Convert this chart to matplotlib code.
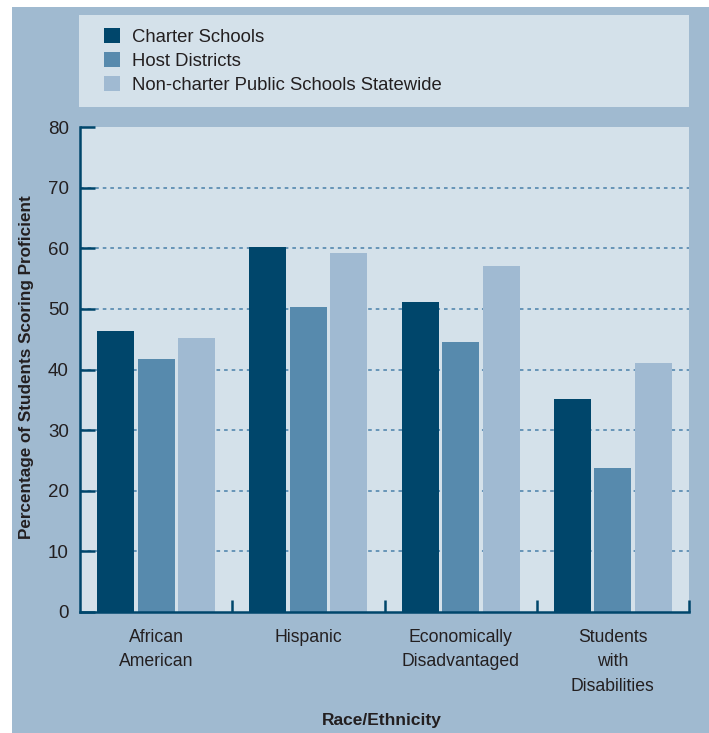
import numpy as np
import matplotlib.pyplot as plt
from matplotlib.patches import Rectangle

plt.rcParams['font.family'] = ['Liberation Sans', 'DejaVu Sans']

# Proficiency rates by group
categories = ["African\nAmerican", "Hispanic", "Economically\nDisadvantaged",
              "Students\nwith\nDisabilities"]
series_names = ["Charter Schools", "Host Districts",
                "Non-charter Public Schools Statewide"]
charter = [46.4, 60.2, 51.2, 35.1]
host = [41.7, 50.3, 44.6, 23.8]
statewide = [45.2, 59.2, 57.1, 41.1]
y_ticks = [0, 10, 20, 30, 40, 50, 60, 70, 80]

colors = ["#00466B", "#578AAD", "#A0BAD2"]
panel_bg = "#A0BAD0"
light_bg = "#D4E1EA"
dark_line = "#00466B"
text_col = "#231F20"

W, H = 709, 733
fig = plt.figure(figsize=(W / 100, H / 100), dpi=100)
fig.patch.set_facecolor("white")
fig.patches.append(Rectangle((12 / W, 0), 1 - 12 / W, 1 - 7 / H,
                             transform=fig.transFigure, facecolor=panel_bg,
                             edgecolor="none", zorder=-10))

ax = fig.add_axes([80 / W, (H - 612) / H, 609 / W, 485 / H])
ax.set_facecolor(light_bg)

x = np.arange(len(categories))
width = 0.243
step = 0.266
bars = []
for i, (vals, c) in enumerate(zip([charter, host, statewide], colors)):
    bars.append(ax.bar(x + (i - 1) * step, vals, width, color=c,
                       zorder=3, label=series_names[i]))

ax.set_xlim(-0.5, len(categories) - 0.5)
ax.set_ylim(0, 80)
ax.hlines(y_ticks[1:-1], -0.5, len(categories) - 0.5, colors="#5E8FB3",
          linestyles=(0, (2, 2.2)), linewidth=1.3, zorder=1)

for s in ["top", "right"]:
    ax.spines[s].set_visible(False)
for s in ["left", "bottom"]:
    ax.spines[s].set_color(dark_line)
    ax.spines[s].set_linewidth(1.8)
    ax.spines[s].set_zorder(5)

ax.set_yticks(y_ticks)
ax.tick_params(axis="y", direction="in", length=11, width=1.8, color=dark_line,
               labelsize=13.5, labelcolor=text_col, pad=8)
ax.set_xticks(x)
ax.set_xticklabels(categories, linespacing=1.6)
ax.tick_params(axis="x", which="major", length=0, labelsize=12.7,
               labelcolor=text_col, pad=12)
ax.set_xticks(np.arange(len(categories)) + 0.5, minor=True)
ax.tick_params(axis="x", which="minor", direction="in", length=9, width=1.8,
               color=dark_line)

fig.text(27 / W, 1 - 367 / H, "Percentage of Students Scoring Proficient",
         rotation=90, ha="center", va="center", fontsize=12.3,
         fontweight="bold", color=text_col)
fig.text(382 / W, 1 - 721 / H, "Race/Ethnicity", ha="center", va="center",
         fontsize=12.5, fontweight="bold", color=text_col)

# legend box
lax = fig.add_axes([79 / W, (H - 107) / H, 610 / W, 92 / H])
lax.set_facecolor(light_bg)
lax.set_xticks([])
lax.set_yticks([])
for s in lax.spines.values():
    s.set_visible(False)
lax.legend(handles=bars, labels=series_names, loc="upper left",
           bbox_to_anchor=(25 / 610, 1 - 13 / 92), frameon=False,
           fontsize=13.3, handlelength=0.88, handleheight=0.88,
           handletextpad=0.65, labelspacing=0.33, borderpad=0, borderaxespad=0,
           labelcolor=text_col)

fig.savefig("out.png", dpi=100)
